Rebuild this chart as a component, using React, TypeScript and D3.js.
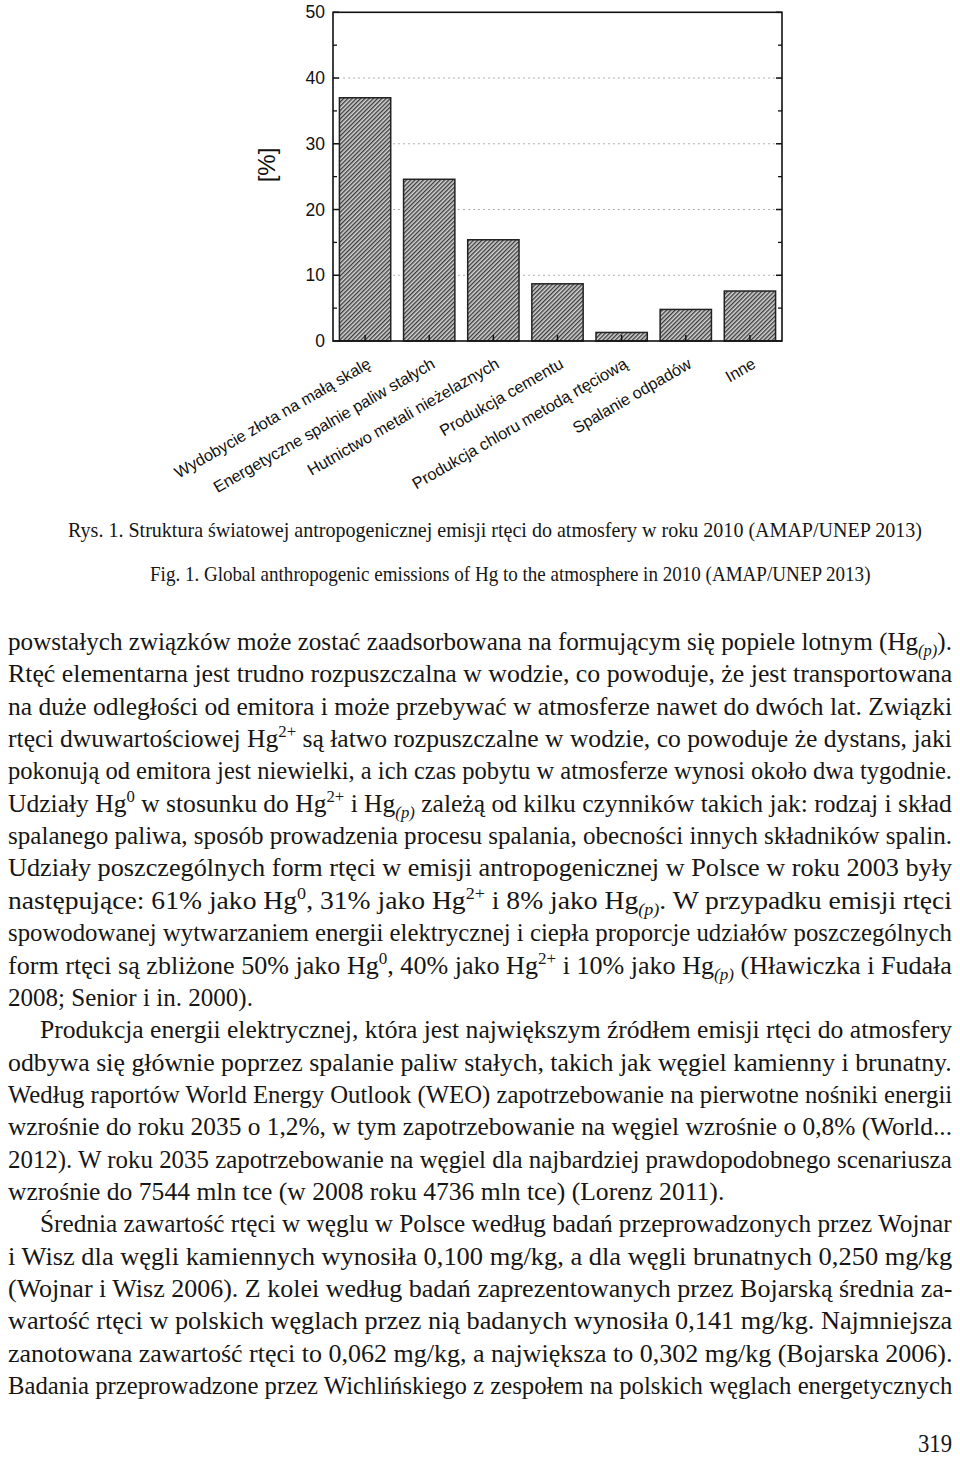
import React, { useLayoutEffect, useRef, useState } from 'react';
import * as d3 from 'd3';

// ---- chart data ----
const categories = [
  'Wydobycie złota na małą skalę',
  'Energetyczne spalnie paliw stałych',
  'Hutnictwo metali nieżelaznych',
  'Produkcja cementu',
  'Produkcja chloru metodą rtęciową',
  'Spalanie odpadów',
  'Inne',
];
const values = [37.0, 24.6, 15.4, 8.7, 1.3, 4.8, 7.6];
const yTicks = [0, 10, 20, 30, 40, 50];
const yMinorTicks = [5, 15, 25, 35, 45];
const yGridTicks = [10, 20, 30, 40];
const yLabel = '[%]';

// ---- page text ----
const captionPL = 'Rys. 1. Struktura światowej antropogenicznej emisji rtęci do atmosfery w roku 2010 (AMAP/UNEP 2013)';
const captionEN = 'Fig. 1. Global anthropogenic emissions of Hg to the atmosphere in 2010 (AMAP/UNEP 2013)';
const bodyLines = [
  'powstałych związków może zostać zaadsorbowana na formującym się popiele lotnym (Hg_{(p)}).',
  'Rtęć elementarna jest trudno rozpuszczalna w wodzie, co powoduje, że jest transportowana',
  'na duże odległości od emitora i może przebywać w atmosferze nawet do dwóch lat. Związki',
  'rtęci dwuwartościowej Hg^{2+} są łatwo rozpuszczalne w wodzie, co powoduje że dystans, jaki',
  'pokonują od emitora jest niewielki, a ich czas pobytu w atmosferze wynosi około dwa tygodnie.',
  'Udziały Hg^{0} w stosunku do Hg^{2+} i Hg_{(p)} zależą od kilku czynników takich jak: rodzaj i skład',
  'spalanego paliwa, sposób prowadzenia procesu spalania, obecności innych składników spalin.',
  'Udziały poszczególnych form rtęci w emisji antropogenicznej w Polsce w roku 2003 były',
  'następujące: 61% jako Hg^{0}, 31% jako Hg^{2+} i 8% jako Hg_{(p)}. W przypadku emisji rtęci',
  'spowodowanej wytwarzaniem energii elektrycznej i ciepła proporcje udziałów poszczególnych',
  'form rtęci są zbliżone 50% jako Hg^{0}, 40% jako Hg^{2+} i 10% jako Hg_{(p)} (Hławiczka i Fudała',
  '2008; Senior i in. 2000).',
  'Produkcja energii elektrycznej, która jest największym źródłem emisji rtęci do atmosfery',
  'odbywa się głównie poprzez spalanie paliw stałych, takich jak węgiel kamienny i brunatny.',
  'Według raportów World Energy Outlook (WEO) zapotrzebowanie na pierwotne nośniki energii',
  'wzrośnie do roku 2035 o 1,2%, w tym zapotrzebowanie na węgiel wzrośnie o 0,8% (World...',
  '2012). W roku 2035 zapotrzebowanie na węgiel dla najbardziej prawdopodobnego scenariusza',
  'wzrośnie do 7544 mln tce (w 2008 roku 4736 mln tce) (Lorenz 2011).',
  'Średnia zawartość rtęci w węglu w Polsce według badań przeprowadzonych przez Wojnar',
  'i Wisz dla węgli kamiennych wynosiła 0,100 mg/kg, a dla węgli brunatnych 0,250 mg/kg',
  '(Wojnar i Wisz 2006). Z kolei według badań zaprezentowanych przez Bojarską średnia za-',
  'wartość rtęci w polskich węglach przez nią badanych wynosiła 0,141 mg/kg. Najmniejsza',
  'zanotowana zawartość rtęci to 0,062 mg/kg, a największa to 0,302 mg/kg (Bojarska 2006).',
  'Badania przeprowadzone przez Wichlińskiego z zespołem na polskich węglach energetycznych',
];
const indentedLines = [12, 18];
const shortLineEnds: Record<number, number> = { 11: 253, 17: 724 };
const pageNumber = '319';

type Seg = { t: string; kind: 'n' | 'sup' | 'sub' };
function parse(line: string): Seg[] {
  const parts = line.split(/(\^\{[^}]*\}|_\{[^}]*\})/).filter((p) => p.length);
  return parts.map((p) => {
    if (p.startsWith('^{')) return { t: p.slice(2, -1), kind: 'sup' as const };
    if (p.startsWith('_{')) return { t: p.slice(2, -1), kind: 'sub' as const };
    return { t: p, kind: 'n' as const };
  });
}

const W = 960;
const H = 1461;
const plot = { left: 333, right: 782, top: 12.3, bottom: 341 };
const sans = '"Liberation Sans", Arial, Helvetica, sans-serif';
const serif = '"Liberation Serif", "Times New Roman", Times, serif';

type LineSpec = { key: string; x0: number; x1: number; y: number; size: number; segs: Seg[]; small: number };

// A text line squeezed horizontally (like the condensed scanned typeface) to fit [x0, x1]
function FitLine({ spec }: { spec: LineSpec }) {
  const ref = useRef<SVGTextElement>(null);
  const [sx, setSx] = useState(0.8);
  useLayoutEffect(() => {
    if (!ref.current) return;
    const natural = ref.current.getComputedTextLength();
    if (natural > 0) setSx((spec.x1 - spec.x0) / natural);
  }, [spec.x0, spec.x1]);
  let off = 0;
  const kids = spec.segs.map((s, k) => {
    const target = s.kind === 'sup' ? -spec.size * 0.38 : s.kind === 'sub' ? spec.size * 0.24 : 0;
    const dy = target - off;
    off = target;
    return (
      <tspan
        key={k}
        dy={dy}
        fontSize={s.kind === 'n' ? spec.size : spec.small}
        fontStyle={s.kind === 'sub' ? 'italic' : 'normal'}
      >
        {s.t}
      </tspan>
    );
  });
  return (
    <g transform={`translate(${spec.x0},${spec.y}) scale(${sx},1)`}>
      <text ref={ref} x={0} y={0} fontFamily={serif} fontSize={spec.size} fill="#161616" style={{ whiteSpace: 'pre' }}>
        {kids}
      </text>
    </g>
  );
}

export default function App() {
  const x = d3
    .scaleBand<string>()
    .domain(categories)
    .range([plot.left, plot.right])
    .paddingInner(0.2)
    .paddingOuter(0.1);
  const y = d3.scaleLinear().domain([0, 50]).range([plot.bottom, plot.top]);

  const bodyFont = 26;
  const lineStep = 32.35;
  const firstBaseline = 650;

  const bodySpecs: LineSpec[] = bodyLines.map((line, i) => ({
    key: 'b' + i,
    x0: indentedLines.includes(i) ? 40 : 8,
    x1: shortLineEnds[i] ?? 952,
    y: firstBaseline + lineStep * i,
    size: bodyFont,
    small: 17,
    segs: parse(line),
  }));
  const captionSpecs: LineSpec[] = [
    { key: 'c1', x0: 68, x1: 922, y: 537, size: 21, small: 14, segs: parse(captionPL) },
    { key: 'c2', x0: 150, x1: 870, y: 581, size: 21, small: 14, segs: parse(captionEN) },
    { key: 'pg', x0: 918, x1: 952, y: 1452, size: 26, small: 17, segs: parse(pageNumber) },
  ];

  return (
    <svg
      width={W}
      height={H}
      viewBox={`0 0 ${W} ${H}`}
      style={{ position: 'absolute', left: 0, top: 0, display: 'block', background: '#fff' }}
    >
      <defs>
        <pattern id="hatch" patternUnits="userSpaceOnUse" width={3} height={3} patternTransform="rotate(45)">
          <rect width={3} height={3} fill="#d4d4d4" />
          <line x1={0.7} y1={0} x2={0.7} y2={3} stroke="#333" strokeWidth={1.3} />
        </pattern>
      </defs>
      <rect x={0} y={0} width={W} height={H} fill="#fff" />

      {/* gridlines */}
      {yGridTicks.map((t) => (
        <line
          key={'g' + t}
          x1={plot.left}
          x2={plot.right}
          y1={y(t)}
          y2={y(t)}
          stroke="#b0b0b0"
          strokeWidth={1}
          strokeDasharray="2,3"
        />
      ))}

      {/* bars */}
      {categories.map((c, i) => (
        <rect
          key={c}
          x={x(c)!}
          y={y(values[i])}
          width={x.bandwidth()}
          height={y(0) - y(values[i])}
          fill="url(#hatch)"
          stroke="#222"
          strokeWidth={1.5}
        />
      ))}

      {/* frame */}
      <rect
        x={plot.left}
        y={plot.top}
        width={plot.right - plot.left}
        height={plot.bottom - plot.top}
        fill="none"
        stroke="#111"
        strokeWidth={1.6}
      />

      {/* y ticks both sides, inward */}
      {yTicks.map((t) => (
        <g key={'t' + t}>
          <line x1={plot.left} x2={plot.left + 6} y1={y(t)} y2={y(t)} stroke="#111" strokeWidth={1.5} />
          <line x1={plot.right} x2={plot.right - 6} y1={y(t)} y2={y(t)} stroke="#111" strokeWidth={1.5} />
          <text
            x={plot.left - 8}
            y={y(t)}
            textAnchor="end"
            dominantBaseline="central"
            fontFamily={sans}
            fontSize={17.5}
            fill="#111"
          >
            {t}
          </text>
        </g>
      ))}
      {yMinorTicks.map((t) => (
        <g key={'m' + t}>
          <line x1={plot.left} x2={plot.left + 4} y1={y(t)} y2={y(t)} stroke="#111" strokeWidth={1.3} />
          <line x1={plot.right} x2={plot.right - 4} y1={y(t)} y2={y(t)} stroke="#111" strokeWidth={1.3} />
        </g>
      ))}

      {/* x ticks, inward */}
      {categories.map((c) => {
        const cx = x(c)! + x.bandwidth() / 2;
        return <line key={'xt' + c} x1={cx} x2={cx} y1={plot.bottom} y2={plot.bottom - 6} stroke="#111" strokeWidth={1.5} />;
      })}

      {/* x labels rotated */}
      {categories.map((c) => {
        const cx = x(c)! + x.bandwidth() / 2 + 7;
        const ty = 367;
        return (
          <text
            key={'xl' + c}
            x={cx}
            y={ty}
            textAnchor="end"
            transform={`rotate(-30 ${cx} ${ty})`}
            fontFamily={sans}
            fontSize={16.3}
            fill="#111"
          >
            {c}
          </text>
        );
      })}

      {/* y label */}
      <text
        x={266}
        y={165}
        textAnchor="middle"
        dominantBaseline="central"
        transform="rotate(-90 266 165)"
        fontFamily={sans}
        fontSize={24}
        fill="#111"
      >
        {yLabel}
      </text>

      {/* captions, body text, page number */}
      {captionSpecs.map((s) => (
        <FitLine key={s.key} spec={s} />
      ))}
      {bodySpecs.map((s) => (
        <FitLine key={s.key} spec={s} />
      ))}
    </svg>
  );
}
